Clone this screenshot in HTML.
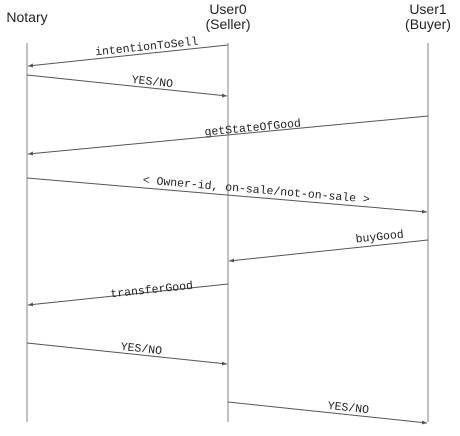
<!DOCTYPE html>
<html><head><style>body{margin:0;background:#fff}</style></head><body>
<svg width="460" height="431" xmlns="http://www.w3.org/2000/svg">
<defs><marker id="a" markerWidth="6" markerHeight="6" refX="5" refY="3" orient="auto" markerUnits="userSpaceOnUse"><path d="M0,1 L5,3 L0,5 z" fill="#555"/></marker></defs>
<g font-family="Liberation Sans, sans-serif" font-size="14" fill="#222" text-anchor="middle">
<text x="27" y="22">Notary</text>
<text x="228" y="14">User0</text><text x="228" y="29">(Seller)</text>
<text x="428" y="14">User1</text><text x="428" y="29">(Buyer)</text>
</g>
<g stroke="#999" stroke-width="1.2">
<line x1="27" y1="43" x2="27" y2="422"/><line x1="228" y1="43" x2="228" y2="422"/><line x1="428" y1="43" x2="428" y2="422"/>
</g>
<g stroke="#555" stroke-width="1" marker-end="url(#a)">
<line x1="228" y1="45" x2="28" y2="66"/>
<line x1="27" y1="75" x2="227" y2="96"/>
<line x1="428" y1="116" x2="28" y2="154"/>
<line x1="27" y1="178" x2="427" y2="212"/>
<line x1="428" y1="240" x2="229" y2="261"/>
<line x1="228" y1="284" x2="28" y2="305"/>
<line x1="27" y1="343" x2="227" y2="364"/>
<line x1="228" y1="402" x2="427" y2="423"/>
</g>
<g font-family="Liberation Mono, monospace" font-size="11.5" fill="#222" text-anchor="middle">
<text transform="translate(147,50) rotate(-6)">intentionToSell</text>
<text transform="translate(152,85) rotate(6)">YES/NO</text>
<text transform="translate(253,131) rotate(-5.4)">getStateOfGood</text>
<text transform="translate(256,193) rotate(4.9)">&lt; Owner-id, on-sale/not-on-sale &gt;</text>
<text transform="translate(380,240) rotate(-6)">buyGood</text>
<text transform="translate(152,293) rotate(-6)">transferGood</text>
<text transform="translate(141,352) rotate(6)">YES/NO</text>
<text transform="translate(348,411) rotate(6)">YES/NO</text>
</g>
</svg>
</body></html>
